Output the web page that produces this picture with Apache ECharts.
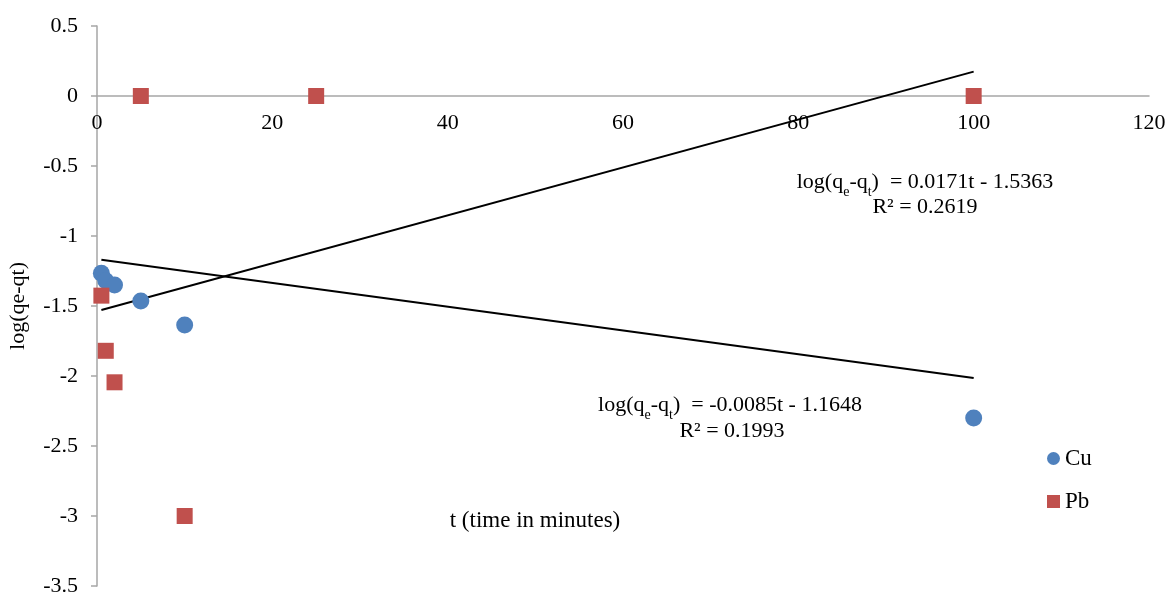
<!DOCTYPE html>
<html><head><meta charset="utf-8">
<script src="https://cdn.jsdelivr.net/npm/echarts@6/dist/echarts.min.js"></script>
<style>html,body{margin:0;padding:0;background:#fff}#c{width:1169px;height:594px}</style>
</head><body><div id="c"></div>
<script>
const cuData = [[0.5,-1.266],[1,-1.32],[2,-1.35],[5,-1.464],[10,-1.636],[100,-2.30]];
const pbData = [[0.5,-1.426],[1,-1.82],[2,-2.045],[5,0],[10,-3.0],[25,0],[100,0]];
const cuTrend = [[0.5,-1.169],[100,-2.015]];
const pbTrend = [[0.5,-1.528],[100,0.174]];
const xTicks = [0,20,40,60,80,100,120];
const yTicks = [0.5,0,-0.5,-1,-1.5,-2,-2.5,-3,-3.5];
const FONT = '"Liberation Serif", "Times New Roman", serif';
const chart = echarts.init(document.getElementById('c'));
const rich = {
  n:{fontFamily:FONT,fontSize:22,color:'#000'},
  s:{fontFamily:FONT,fontSize:14,color:'#000',verticalAlign:'bottom',padding:[0,0,-6,0]}
};
chart.setOption({
  animation:false,
  grid:{left:97,right:20,top:26,bottom:8,containLabel:false,outerBoundsMode:'none'},
  xAxis:{type:'value',min:0,max:120,interval:20,position:'bottom',offset:-490,
    axisLine:{onZero:false,lineStyle:{color:'#a6a6a6',width:1.5}},
    axisTick:{show:false},
    axisLabel:{fontFamily:FONT,fontSize:22,color:'#000',margin:16},
    splitLine:{show:false}},
  yAxis:{type:'value',min:-3.5,max:0.5,interval:0.5,
    axisLine:{show:true,onZero:false,lineStyle:{color:'#a6a6a6',width:1.5}},
    axisTick:{show:true,length:6,lineStyle:{color:'#a6a6a6',width:1.5}},
    axisLabel:{fontFamily:FONT,fontSize:22,color:'#000',margin:19},
    splitLine:{show:false},
    name:'log(qe-qt)',nameLocation:'middle',nameGap:68,nameRotate:90,
    nameTextStyle:{fontFamily:FONT,fontSize:22,color:'#000'}},
  legend:{orient:'vertical',left:1042,top:442,itemWidth:13,itemHeight:13,itemGap:20,
    textStyle:{fontFamily:FONT,fontSize:23,color:'#000'},
    data:[{name:'Cu',icon:'circle'},{name:'Pb',icon:'rect'}]},
  series:[
    {name:'Cu',type:'scatter',data:cuData,symbol:'circle',symbolSize:17,itemStyle:{color:'#4f81bd',opacity:1},z:3},
    {name:'Pb',type:'scatter',data:pbData,symbol:'rect',symbolSize:16,itemStyle:{color:'#c0504d',opacity:1},z:3},
    {name:'cuTrend',type:'line',data:cuTrend,symbol:'none',lineStyle:{color:'#000',width:2},z:2},
    {name:'pbTrend',type:'line',data:pbTrend,symbol:'none',lineStyle:{color:'#000',width:2},z:2}
  ],
  graphic:[
    {type:'text',x:535,y:521,style:{text:'t (time in minutes)',font:'23px '+FONT,fill:'#000',align:'center',verticalAlign:'middle'}},
    {type:'text',x:925,y:182,style:{text:'{n|log(q}{s|e}{n|-q}{s|t}{n|)  = 0.0171t - 1.5363}',rich:rich,align:'center',verticalAlign:'middle'}},
    {type:'text',x:925,y:207,style:{text:'R² = 0.2619',font:'22px '+FONT,fill:'#000',align:'center',verticalAlign:'middle'}},
    {type:'text',x:730,y:405,style:{text:'{n|log(q}{s|e}{n|-q}{s|t}{n|)  = -0.0085t - 1.1648}',rich:rich,align:'center',verticalAlign:'middle'}},
    {type:'text',x:732,y:431,style:{text:'R² = 0.1993',font:'22px '+FONT,fill:'#000',align:'center',verticalAlign:'middle'}}
  ]
});
</script></body></html>
